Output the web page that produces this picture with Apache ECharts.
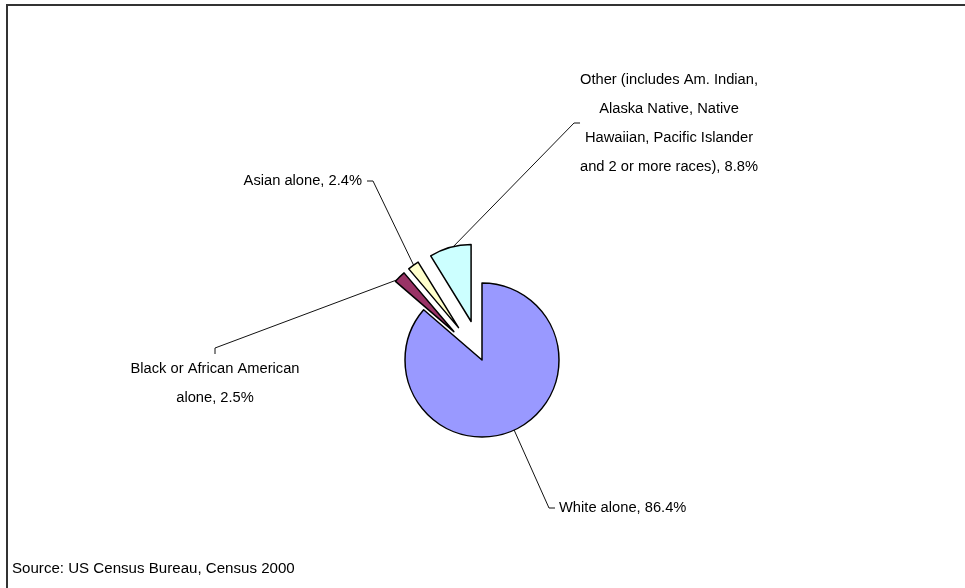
<!DOCTYPE html>
<html><head><meta charset="utf-8">
<script src="https://cdn.jsdelivr.net/npm/echarts@6/dist/echarts.min.js"></script>
<style>html,body{margin:0;padding:0;background:#fff}#c{width:965px;height:588px}</style>
</head><body><div id="c"></div>
<script>
const categories = [
  'White alone',
  'Black or African American\nalone',
  'Asian alone',
  'Other (includes Am. Indian,\nAlaska Native, Native\nHawaiian, Pacific Islander\nand 2 or more races)'
];
const values = [86.4, 2.5, 2.4, 8.8];
const colors = ['#9999FF', '#993366', '#FFFFCC', '#CCFFFF'];
const exploded = [false, true, true, true];
const sourceNote = 'Source: US Census Bureau, Census 2000';

const FONT = "'Liberation Sans', Arial, sans-serif";
const CENTER = [482, 360];
const RADIUS = 77;
const OFFSET = 40;
const labelPlace = [
  {x: 555, y: 508, align: 'left', verticalAlign: 'middle', padding: [0, 0, 0, 4]},
  {x: 215, y: 354, align: 'center', verticalAlign: 'top', padding: [0, 0, 300, 0]},
  {x: 367, y: 181, align: 'right', verticalAlign: 'middle', padding: [0, 5, 0, 0]},
  {x: 669, y: 65, align: 'center', verticalAlign: 'top', padding: 0}
];

const labelBase = {
  show: true, position: 'outside', formatter: '{b}, {c}%',
  fontFamily: FONT, fontSize: 14.7, lineHeight: 29, color: '#000'
};
const lineBase = {show: true, length: 10, length2: 6, minTurnAngle: 0, maxSurfaceAngle: 180,
  lineStyle: {color: '#111', width: 1}};
function layoutFn(p) {
  const L = labelPlace[p.dataIndex];
  return {x: L.x, y: L.y, align: L.align, verticalAlign: L.verticalAlign};
}

// visible pie (exploded slices via selection); carries label for non-exploded slices
const pieData = categories.map((name, i) => ({
  name: name, value: values[i], selected: exploded[i],
  itemStyle: {color: colors[i]},
  label: {show: !exploded[i], padding: labelPlace[i].padding},
  labelLine: {show: !exploded[i]}
}));
// transparent helper pie at the exploded radius; carries labels for exploded slices
const labelData = categories.map((name, i) => ({
  name: name, value: values[i],
  label: {show: exploded[i], padding: labelPlace[i].padding},
  labelLine: {show: exploded[i]}
}));

const chart = echarts.init(document.getElementById('c'), null, {renderer: 'canvas'});
chart.setOption({
  animation: false,
  backgroundColor: '#fff',
  graphic: [
    {type: 'rect', shape: {x: 7, y: 5, width: 1000, height: 700}, style: {fill: 'none', stroke: '#333', lineWidth: 2}, silent: true},
    {type: 'text', x: 12, y: 569, style: {text: sourceNote, font: "15.1px " + FONT, fill: '#000', verticalAlign: 'middle'}, silent: true}
  ],
  series: [{
    type: 'pie', z: 2,
    center: CENTER, radius: RADIUS, startAngle: 90, clockwise: true,
    selectedMode: 'multiple', selectedOffset: OFFSET,
    avoidLabelOverlap: false,
    emphasis: {disabled: true},
    itemStyle: {borderColor: '#000', borderWidth: 1.5},
    label: labelBase, labelLine: lineBase, labelLayout: layoutFn,
    data: pieData
  }, {
    type: 'pie', z: 1, silent: true,
    center: CENTER, radius: RADIUS + OFFSET - 2, startAngle: 90, clockwise: true,
    avoidLabelOverlap: false,
    emphasis: {disabled: true},
    itemStyle: {color: 'rgba(0,0,0,0)', borderWidth: 0},
    label: labelBase, labelLine: lineBase, labelLayout: layoutFn,
    data: labelData
  }]
});
</script></body></html>
